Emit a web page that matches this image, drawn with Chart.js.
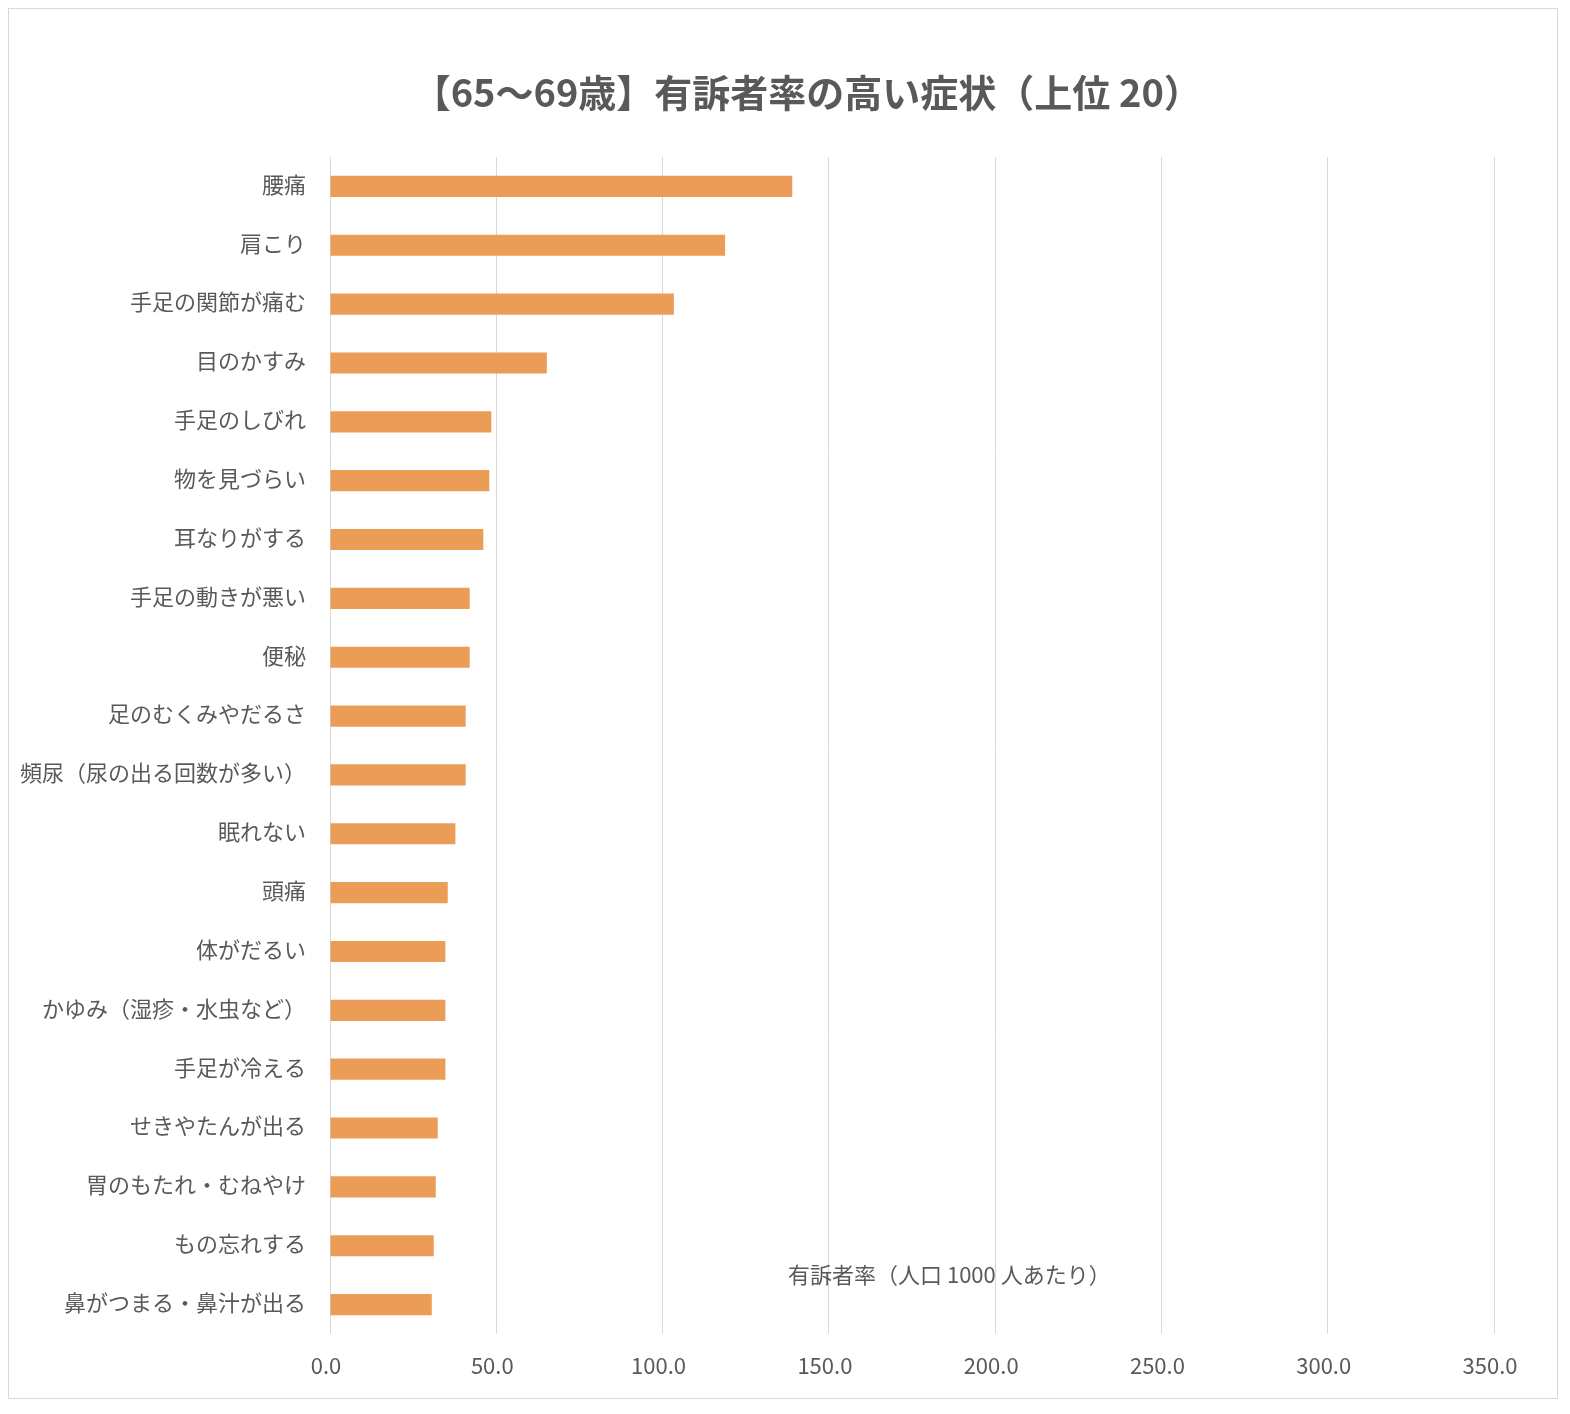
<!DOCTYPE html>
<html>
<head>
<meta charset="utf-8">
<script src="https://cdn.jsdelivr.net/npm/chart.js@4.4.0/dist/chart.umd.min.js"></script>
<style>
  body { margin: 0; background: #fff; }
  #frame {
    position: absolute; left: 8px; top: 8px;
    width: 1548px; height: 1389px;
    border: 1px solid #d9d9d9;
  }
  #frame canvas { display: block; }
</style>
</head>
<body>
<div id="frame"><canvas id="symptomChart" width="1548" height="1389"></canvas></div>
<script>
const categories = [
  '腰痛', '肩こり', '手足の関節が痛む', '目のかすみ', '手足のしびれ',
  '物を見づらい', '耳なりがする', '手足の動きが悪い', '便秘', '足のむくみやだるさ',
  '頻尿（尿の出る回数が多い）', '眠れない', '頭痛', '体がだるい', 'かゆみ（湿疹・水虫など）',
  '手足が冷える', 'せきやたんが出る', '胃のもたれ・むねやけ', 'もの忘れする', '鼻がつまる・鼻汁が出る'
];
const rates = [
  139.0, 118.8, 103.4, 65.2, 48.5,
  47.9, 46.1, 42.0, 42.0, 40.8,
  40.8, 37.7, 35.4, 34.7, 34.7,
  34.7, 32.4, 31.8, 31.2, 30.6
];
const xTicks = [0, 50, 100, 150, 200, 250, 300, 350];

const chartTitle = '【65～69歳】有訴者率の高い症状（上位 20）';
const axisTitle = '有訴者率（人口 1000 人あたり）';

const textColor = '#595959';
const fontFamily = '"Noto Sans CJK JP", "Noto Sans", sans-serif';

// title and the axis caption sit where Excel put them, so draw them by hand
const labelsPlugin = {
  id: 'labelsPlugin',
  afterDraw(chart) {
    const ctx = chart.ctx;
    const area = chart.chartArea;
    ctx.save();
    ctx.fillStyle = textColor;
    ctx.textBaseline = 'middle';
    ctx.textAlign = 'center';
    ctx.font = 'bold 38px ' + fontFamily;
    ctx.fillText(chartTitle, area.left + (area.right - area.left) * 0.41, 84);
    ctx.textAlign = 'left';
    ctx.font = '22px ' + fontFamily;
    ctx.fillText(axisTitle, area.left + 458, area.bottom - 59);
    ctx.restore();
  }
};

new Chart(document.getElementById('symptomChart'), {
  type: 'bar',
  data: {
    labels: categories,
    datasets: [{
      data: rates,
      backgroundColor: '#EB9C57',
      barPercentage: 0.36,
      categoryPercentage: 1.0
    }]
  },
  options: {
    indexAxis: 'y',
    responsive: false,
    animation: false,
    layout: { padding: { top: 148, right: 63, bottom: 0, left: 0 } },
    plugins: {
      legend: { display: false },
      title: { display: false },
      tooltip: { enabled: false }
    },
    scales: {
      x: {
        min: 0,
        max: 350,
        afterBuildTicks(axis) {
          axis.ticks = xTicks.map(v => ({ value: v }));
        },
        afterFit(axis) { axis.height = 64; },
        grid: { color: '#d9d9d9', lineWidth: 1, drawTicks: false },
        border: { display: false },
        ticks: {
          padding: 18,
          labelOffset: -4,
          color: textColor,
          font: { family: fontFamily, size: 22 },
          callback: v => v.toFixed(1)
        }
      },
      y: {
        afterFit(axis) { axis.width = 321; },
        grid: { display: false },
        border: { display: false },
        ticks: {
          padding: 16,
          labelOffset: -2,
          color: textColor,
          font: { family: fontFamily, size: 22 }
        }
      }
    }
  },
  plugins: [labelsPlugin]
});
</script>
</body>
</html>
